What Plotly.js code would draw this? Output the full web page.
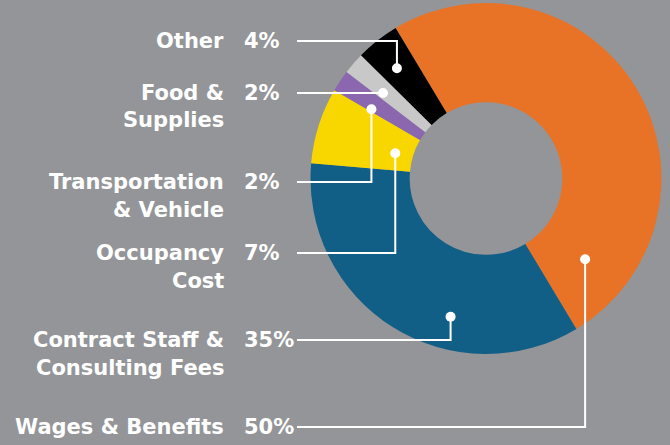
<!DOCTYPE html>
<html>
<head>
<meta charset="utf-8">
<script src="https://cdn.plot.ly/plotly-3.0.1.min.js"></script>
<style>
  html, body { margin: 0; padding: 0; background: #939598; }
  #chart { width: 670px; height: 445px; }
</style>
</head>
<body>
<div id="chart"></div>
<script>
// Данные диаграммы (порядок — по часовой стрелке, начиная с оранжевого сектора)
const categories = ['Wages & Benefits', 'Contract Staff &\nConsulting Fees', 'Occupancy\nCost',
    'Transportation\n& Vehicle', 'Food &\nSupplies', 'Other'];
const shares = [50, 35, 7, 2, 2, 4];
const colors = ['#e87326', '#115e86', '#f8d700', '#8a67ae', '#c9c8c8', '#000000'];

// Геометрия (пиксели)
const W = 670, H = 445;
const cx = 486, cy = 178.5, R = 175.5;
const hole = 0.435;
const rotation = -31;

// Положение строк подписей и точек выносок
const rowY = [427, 340, 253, 182, 93, 41];
const anchorAlong = [0.89, 0.36, 0.42, 0.13, 0.32, 0.45];   // доля угла сектора
const anchorRadial = [0.52, 0.67, 0.18, 0.58, 0.58, 0.66];  // доля толщины кольца
const labelRight = 226, pctLeft = 242, lineStart = 297, lineGap = 27.5;

const px = x => x / W;
const py = y => 1 - y / H;

const textFont = { family: "'DejaVu Sans', sans-serif", size: 21, color: '#ffffff', weight: 700 };

const annotations = [];
const shapes = [];
const total = shares.reduce((a, b) => a + b, 0);
let start = rotation;

shares.forEach((v, i) => {
    const span = v / total * 360;
    const ang = (start + anchorAlong[i] * span) * Math.PI / 180;
    const r = hole * R + anchorRadial[i] * (R - hole * R);
    const dx = cx + r * Math.sin(ang);
    const dy = cy - r * Math.cos(ang);
    start += span;

    // подписи категорий
    categories[i].split('\n').forEach((line, k) => {
        annotations.push({
            x: px(labelRight), y: py(rowY[i] + k * lineGap), xref: 'paper', yref: 'paper',
            xanchor: 'right', yanchor: 'middle', showarrow: false,
            text: line, font: textFont
        });
    });
    // проценты
    annotations.push({
        x: px(pctLeft), y: py(rowY[i]), xref: 'paper', yref: 'paper',
        xanchor: 'left', yanchor: 'middle', showarrow: false,
        text: v + '%', font: textFont
    });

    // выноска
    let path = `M ${px(lineStart)},${py(rowY[i])} L ${px(dx)},${py(rowY[i])}`;
    if (Math.abs(dy - rowY[i]) > 1) path += ` L ${px(dx)},${py(dy)}`;
    shapes.push({ type: 'path', xref: 'paper', yref: 'paper', path: path,
        line: { color: '#ffffff', width: 2 } });
    const dr = 5;
    shapes.push({ type: 'circle', xref: 'paper', yref: 'paper',
        x0: px(dx - dr), x1: px(dx + dr), y0: py(dy + dr), y1: py(dy - dr),
        fillcolor: '#ffffff', line: { width: 0 } });
});

const trace = {
    type: 'pie',
    values: shares,
    labels: categories,
    marker: { colors: colors, line: { width: 0 } },
    hole: hole,
    sort: false,
    direction: 'clockwise',
    rotation: rotation,
    textinfo: 'none',
    hoverinfo: 'skip',
    showlegend: false,
    domain: { x: [px(cx - R), px(cx + R)], y: [py(cy + R), py(cy - R)] }
};

Plotly.newPlot('chart', [trace], {
    width: W, height: H,
    margin: { l: 0, r: 0, t: 0, b: 0 },
    paper_bgcolor: '#939598',
    plot_bgcolor: '#939598',
    showlegend: false,
    annotations: annotations,
    shapes: shapes
}, { displayModeBar: false, staticPlot: true });
</script>
</body>
</html>
